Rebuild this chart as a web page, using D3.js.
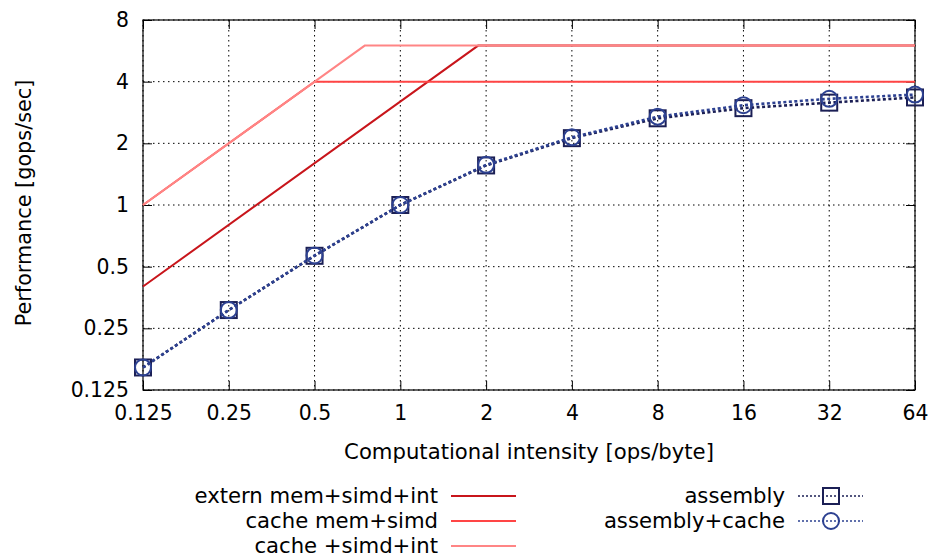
<!DOCTYPE html>
<html>
<head>
<meta charset="utf-8">
<script src="https://cdn.jsdelivr.net/npm/d3@7"></script>
<style>
  html, body { margin: 0; padding: 0; background: #fff; }
  svg { display: block; font-family: "DejaVu Sans", sans-serif; }
</style>
</head>
<body>
<svg id="chart" width="933" height="556"></svg>
<script>
// Computational intensity (ops/byte) at which the kernels were measured
const intensity = [0.125, 0.25, 0.5, 1, 2, 4, 8, 16, 32, 64];
// Measured performance (gops/sec)
const assembly = [0.161, 0.307, 0.565, 1.0, 1.56, 2.12, 2.65, 2.97, 3.16, 3.35];
const assemblyCache = [0.161, 0.307, 0.567, 1.0, 1.57, 2.14, 2.70, 3.07, 3.30, 3.46];

// Roofline vertices: bandwidth slope up to the knee, then flat compute peak
const externX = [0.125, 1.875, 64];
const externY = [0.4, 6, 6];
const cacheSimdX = [0.125, 0.5, 64];
const cacheSimdY = [1, 4, 4];
const cacheSimdIntX = [0.125, 0.75, 64];
const cacheSimdIntY = [1, 6, 6];

const xTicks = [0.125, 0.25, 0.5, 1, 2, 4, 8, 16, 32, 64];
const yTicks = [0.125, 0.25, 0.5, 1, 2, 4, 8];

const svg = d3.select("#chart");
const plotL = 143, plotR = 915, plotT = 20, plotB = 390;

const x = d3.scaleLog().base(2).domain([0.125, 64]).range([plotL, plotR]);
const y = d3.scaleLog().base(2).domain([0.125, 8]).range([plotB, plotT]);
const fmt = d => String(d);

// grid
const grid = svg.append("g");
grid.selectAll(".gx").data(xTicks).join("line")
  .attr("x1", d => x(d)).attr("x2", d => x(d))
  .attr("y1", plotT).attr("y2", plotB)
  .attr("stroke", "#000").attr("stroke-width", 1)
  .attr("stroke-dasharray", "1.5,3.5");
grid.selectAll(".gy").data(yTicks).join("line")
  .attr("x1", plotL).attr("x2", plotR)
  .attr("y1", d => y(d)).attr("y2", d => y(d))
  .attr("stroke", "#000").attr("stroke-width", 1)
  .attr("stroke-dasharray", "1.5,3.5");

// axes (ticks drawn inward and mirrored on all sides)
const tickLen = 9;
const tickFont = 20.4;
const labelFont = 21.2;
const axB = svg.append("g").attr("transform", `translate(0,${plotB})`)
  .call(d3.axisBottom(x).tickValues(xTicks).tickFormat(fmt).tickSize(-tickLen).tickPadding(16));
const axT = svg.append("g").attr("transform", `translate(0,${plotT})`)
  .call(d3.axisTop(x).tickValues(xTicks).tickFormat("").tickSize(-tickLen));
const axL = svg.append("g").attr("transform", `translate(${plotL},0)`)
  .call(d3.axisLeft(y).tickValues(yTicks).tickFormat(fmt).tickSize(-tickLen).tickPadding(14));
const axR = svg.append("g").attr("transform", `translate(${plotR},0)`)
  .call(d3.axisRight(y).tickValues(yTicks).tickFormat("").tickSize(-tickLen));
[axB, axT, axL, axR].forEach(a => {
  a.select(".domain").remove();
  a.selectAll(".tick line").attr("stroke", "#000").attr("stroke-width", 1);
  a.selectAll("text").attr("font-size", tickFont).attr("fill", "#000")
    .attr("font-family", "DejaVu Sans, sans-serif");
});

svg.append("rect").attr("x", plotL).attr("y", plotT)
  .attr("width", plotR - plotL).attr("height", plotB - plotT)
  .attr("fill", "none").attr("stroke", "#000").attr("stroke-width", 1.2);

// roofline curves
const roofs = [
  { name: "extern mem+simd+int", xs: externX, ys: externY, color: "#c8151b" },
  { name: "cache mem+simd", xs: cacheSimdX, ys: cacheSimdY, color: "#ff4545" },
  { name: "cache +simd+int", xs: cacheSimdIntX, ys: cacheSimdIntY, color: "#ff8585" }
];
const line = d3.line().x(d => x(d[0])).y(d => y(d[1]));
roofs.forEach(r => {
  svg.append("path").datum(r.xs.map((v, i) => [v, r.ys[i]]))
    .attr("d", line).attr("fill", "none")
    .attr("stroke", r.color).attr("stroke-width", 2);
});

// measured series
const series = [
  { name: "assembly", vals: assembly, color: "#1b1f55", marker: "square" },
  { name: "assembly+cache", vals: assemblyCache, color: "#2d4191", marker: "circle" }
];
function drawMarker(g, kind, cx, cy, color) {
  if (kind === "square") {
    g.append("rect").attr("x", cx - 8).attr("y", cy - 8)
      .attr("width", 16).attr("height", 16)
      .attr("fill", "none").attr("stroke", color).attr("stroke-width", 2);
  } else {
    g.append("circle").attr("cx", cx).attr("cy", cy).attr("r", 8)
      .attr("fill", "none").attr("stroke", color).attr("stroke-width", 2);
  }
}
series.forEach(s => {
  const pts = intensity.map((v, i) => [v, s.vals[i]]);
  svg.append("path").datum(pts).attr("d", line).attr("fill", "none")
    .attr("stroke", s.color).attr("stroke-width", 2.6)
    .attr("stroke-dasharray", "3,2.5");
  const g = svg.append("g");
  pts.forEach(p => drawMarker(g, s.marker, x(p[0]), y(p[1]), s.color));
});

// axis titles
svg.append("text").attr("x", 529).attr("y", 459).attr("text-anchor", "middle")
  .attr("font-size", labelFont).text("Computational intensity [ops/byte]");
svg.append("text").attr("transform", "translate(31,203) rotate(-90)")
  .attr("text-anchor", "middle").attr("font-size", 20.8)
  .text("Performance [gops/sec]");

// legend
const legend = svg.append("g").attr("font-size", labelFont);
roofs.forEach((r, i) => {
  const ly = 496 + i * 25;
  legend.append("text").attr("x", 438).attr("y", ly).attr("dy", "0.33em")
    .attr("text-anchor", "end").text(r.name);
  legend.append("line").attr("x1", 451).attr("x2", 516)
    .attr("y1", ly).attr("y2", ly).attr("stroke", r.color).attr("stroke-width", 2);
});
series.forEach((s, i) => {
  const ly = 496 + i * 25;
  legend.append("text").attr("x", 785).attr("y", ly).attr("dy", "0.33em")
    .attr("text-anchor", "end").text(s.name);
  legend.append("line").attr("x1", 798).attr("x2", 863)
    .attr("y1", ly).attr("y2", ly).attr("stroke", s.color).attr("stroke-width", 1.5)
    .attr("stroke-dasharray", "2,2");
  const g = legend.append("g");
  drawMarker(g, s.marker, 831, ly, s.color);
});
</script>
</body>
</html>
